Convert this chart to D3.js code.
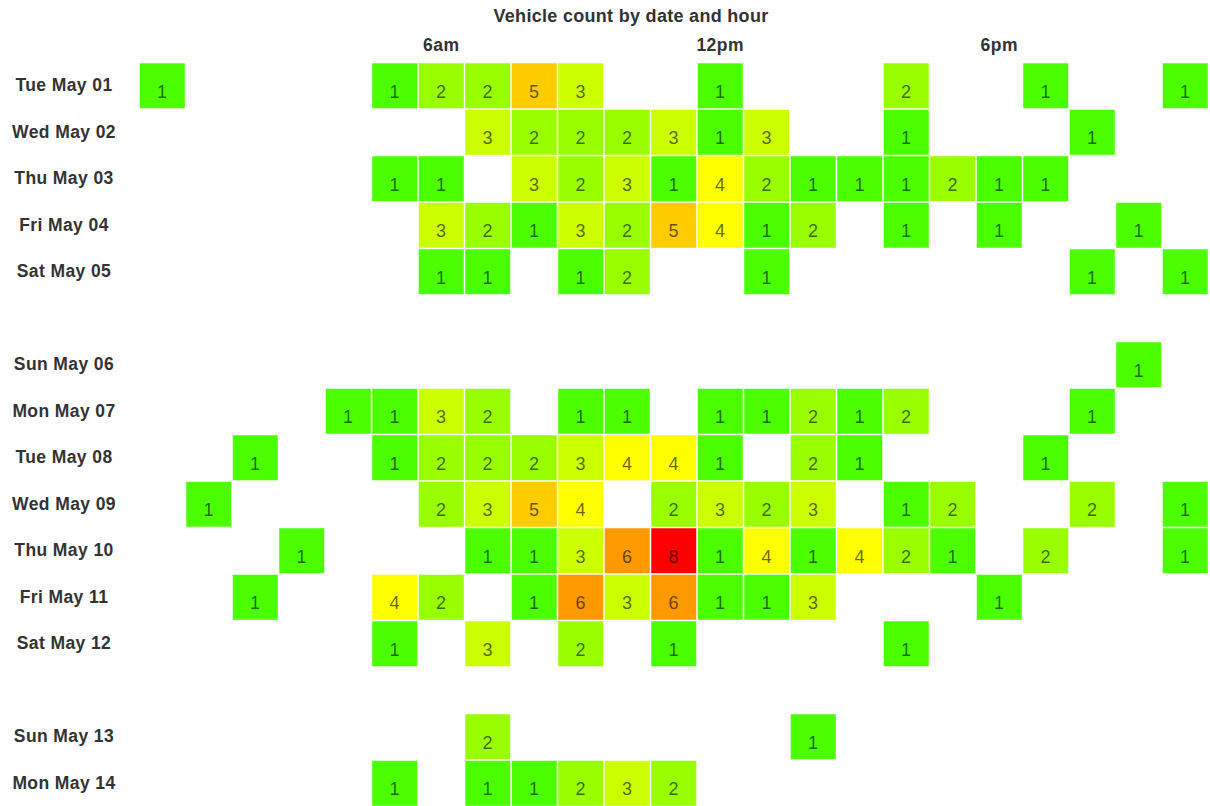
<!DOCTYPE html>
<html>
<head>
<meta charset="utf-8">
<script src="https://cdn.jsdelivr.net/npm/d3@7"></script>
<style>
  body { margin: 0; background: #fff; overflow: hidden; }
  svg { font-family: "Liberation Sans", Arial, sans-serif; }
  .title { font-weight: bold; font-size: 18px; letter-spacing: 0.3px; fill: #333; }
  .hour { font-weight: bold; font-size: 17.5px; letter-spacing: 0.5px; fill: #333; }
  .day { font-weight: bold; font-size: 17.5px; letter-spacing: 0.4px; fill: #333; }
  .count { font-size: 18px; letter-spacing: 0.3px; fill: #000; fill-opacity: 0.6; }
</style>
</head>
<body>
<div id="chart"></div>
<script>
var title = "Vehicle count by date and hour";

var dates = ["2012-05-01", "2012-05-02", "2012-05-03", "2012-05-04", "2012-05-05",
  "2012-05-06", "2012-05-07", "2012-05-08", "2012-05-09", "2012-05-10",
  "2012-05-11", "2012-05-12", "2012-05-13", "2012-05-14"];

var hours = d3.range(0, 24);
var hourTicks = [6, 12, 18];
var hourTickLabels = ["6am", "12pm", "6pm"];

// counts per hour (0..23), one row per date, 0 = no vehicles
var counts = [
  [1,0,0,0,0,1,2,2,5,3,0,0,1,0,0,0,2,0,0,1,0,0,1,0],
  [0,0,0,0,0,0,0,3,2,2,2,3,1,3,0,0,1,0,0,0,1,0,0,0],
  [0,0,0,0,0,1,1,0,3,2,3,1,4,2,1,1,1,2,1,1,0,0,0,0],
  [0,0,0,0,0,0,3,2,1,3,2,5,4,1,2,0,1,0,1,0,0,1,0,0],
  [0,0,0,0,0,0,1,1,0,1,2,0,0,1,0,0,0,0,0,0,1,0,1,0],
  [0,0,0,0,0,0,0,0,0,0,0,0,0,0,0,0,0,0,0,0,0,1,0,0],
  [0,0,0,0,1,1,3,2,0,1,1,0,1,1,2,1,2,0,0,0,1,0,0,0],
  [0,0,1,0,0,1,2,2,2,3,4,4,1,0,2,1,0,0,0,1,0,0,0,0],
  [0,1,0,0,0,0,2,3,5,4,0,2,3,2,3,0,1,2,0,0,2,0,1,0],
  [0,0,0,1,0,0,0,1,1,3,6,8,1,4,1,4,2,1,0,2,0,0,1,0],
  [0,0,1,0,0,4,2,0,1,6,3,6,1,1,3,0,0,0,1,0,0,0,0,0],
  [0,0,0,0,0,1,0,3,0,2,0,1,0,0,0,0,1,0,0,0,0,0,0,0],
  [0,0,0,0,0,0,0,2,0,0,0,0,0,0,1,0,0,0,0,0,0,0,0,0],
  [0,0,0,0,0,1,0,1,1,2,3,2,0,0,0,0,0,0,0,0,0,0,0,0]
];

var countLevels = [1, 2, 3, 4, 5, 6, 7, 8];
var levelColors = ["#4cff00", "#99ff00", "#ccff00", "#ffff00", "#ffcc00", "#ff9900", "#ff5500", "#ff0000"];

var width = 1262, height = 810;
var parse = d3.timeParse("%Y-%m-%d");
var fmt = d3.timeFormat("%a %b %d");
var first = parse(dates[0]);

// each new week (starting Sunday) leaves an empty row
var rows = dates.map(function (s, i) {
  var d = parse(s);
  return {date: d, label: fmt(d), slot: i + d3.timeWeek.count(first, d), values: counts[i]};
});
var nSlots = d3.max(rows, function (r) { return r.slot; }) + 1;

var x = d3.scaleBand().domain(hours).range([139, 139 + 24 * 46.5]);
var y = d3.scaleBand().domain(d3.range(nSlots)).range([62.5, 62.5 + nSlots * 46.5]);
var color = d3.scaleOrdinal().domain(countLevels).range(levelColors);

var svg = d3.select("#chart").append("svg")
  .attr("width", width)
  .attr("height", height);

svg.append("text")
  .attr("class", "title")
  .attr("x", 631)
  .attr("y", 22)
  .style("text-anchor", "middle")
  .text(title);

svg.selectAll(".hour")
  .data(hourTicks).enter()
  .append("text")
    .attr("class", "hour")
    .style("text-anchor", "middle")
    .attr("x", function (d) { return x(d) + x.bandwidth() / 2; })
    .attr("y", 50.5)
    .text(function (d, i) { return hourTickLabels[i]; });

svg.selectAll(".day")
  .data(rows).enter()
  .append("text")
    .attr("class", "day")
    .style("text-anchor", "middle")
    .attr("x", 64)
    .attr("y", function (d) { return y(d.slot) + y.bandwidth() / 2 + 5.5; })
    .text(function (d) { return d.label; });

var cells = [];
rows.forEach(function (r) {
  r.values.forEach(function (v, h) {
    if (v > 0) cells.push({slot: r.slot, hour: h, value: v});
  });
});

var cell = svg.selectAll(".cell")
  .data(cells).enter()
  .append("g")
    .attr("class", "cell")
    .attr("transform", function (d) {
      return "translate(" + x(d.hour) + "," + y(d.slot) + ")";
    });

cell.append("rect")
  .attr("x", 0.75)
  .attr("y", 0.75)
  .attr("width", x.bandwidth() - 1.5)
  .attr("height", y.bandwidth() - 1.5)
  .style("fill", function (d) { return color(d.value); });

cell.append("text")
  .attr("class", "count")
  .style("text-anchor", "middle")
  .attr("x", x.bandwidth() / 2)
  .attr("y", y.bandwidth() / 2 + 12)
  .text(function (d) { return d.value; });
</script>
</body>
</html>
